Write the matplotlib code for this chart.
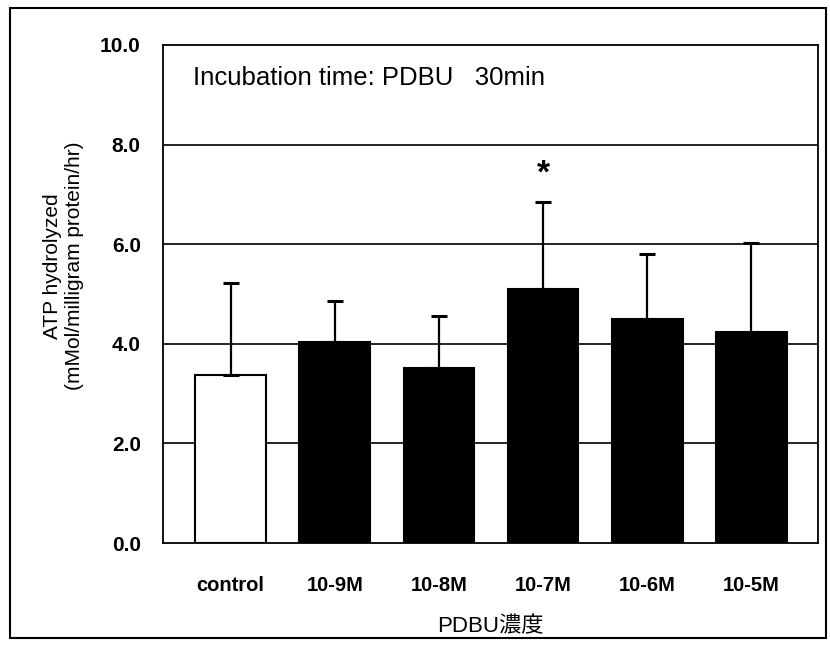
import matplotlib
matplotlib.use('Agg')
import matplotlib.pyplot as plt
import numpy as np
from matplotlib.patches import Rectangle

plt.rcParams['font.family'] = ['Liberation Sans', 'Noto Sans CJK JP', 'DejaVu Sans']

categories = ['control', '10-9M', '10-8M', '10-7M', '10-6M', '10-5M']
means = [3.38, 4.03, 3.52, 5.10, 4.50, 4.23]
errors = [1.85, 0.83, 1.04, 1.74, 1.31, 1.80]
colors = ['white', 'black', 'black', 'black', 'black', 'black']
yticks = [0, 2, 4, 6, 8, 10]

fig = plt.figure(figsize=(8.3, 6.46), dpi=100)
ax = fig.add_axes([0.1964, 0.1594, 0.789, 0.771])

x = np.arange(len(categories))
ax.bar(x, means, width=0.68, color=colors, edgecolor='black', linewidth=1.5, zorder=2)
ax.errorbar(x, means, yerr=[np.zeros(len(errors)), errors], fmt='none',
            ecolor='black', elinewidth=1.6, capsize=6, capthick=2.2, zorder=3)

ax.set_xlim(-0.65, 5.64)
ax.set_ylim(0, 10)
ax.set_yticks(yticks)
ax.set_yticklabels(['%.1f' % v for v in yticks], fontsize=15, fontweight='bold')
ax.set_xticks(x)
ax.set_xticklabels(categories, fontsize=14.5, fontweight='bold')
ax.tick_params(axis='y', length=0, pad=16)
ax.tick_params(axis='x', length=0, pad=24)

for v in yticks[1:-1]:
    ax.axhline(v, color='black', linewidth=1.2, zorder=1)

for s in ax.spines.values():
    s.set_linewidth(1.3)
    s.set_color('black')

ax.set_ylabel('ATP hydrolyzed\n(mMol/milligram protein/hr)', fontsize=15, linespacing=1.15)
ax.yaxis.set_label_coords(-0.152, 0.556)
ax.yaxis.label.set_verticalalignment('center')

ax.set_xlabel('PDBU濃度', fontsize=16, labelpad=15)

ax.text(0.046, 0.934, 'Incubation time: PDBU   30min', transform=ax.transAxes,
        fontsize=18.5, ha='left', va='center')
ax.text(3, 7.4, '*', fontsize=24, fontweight='bold', ha='center', va='center')

fig.patches.append(Rectangle((0.012, 0.0124), 0.983, 0.975, transform=fig.transFigure,
                             fill=False, edgecolor='black', linewidth=1.5))

fig.savefig('out.png', dpi=100)
